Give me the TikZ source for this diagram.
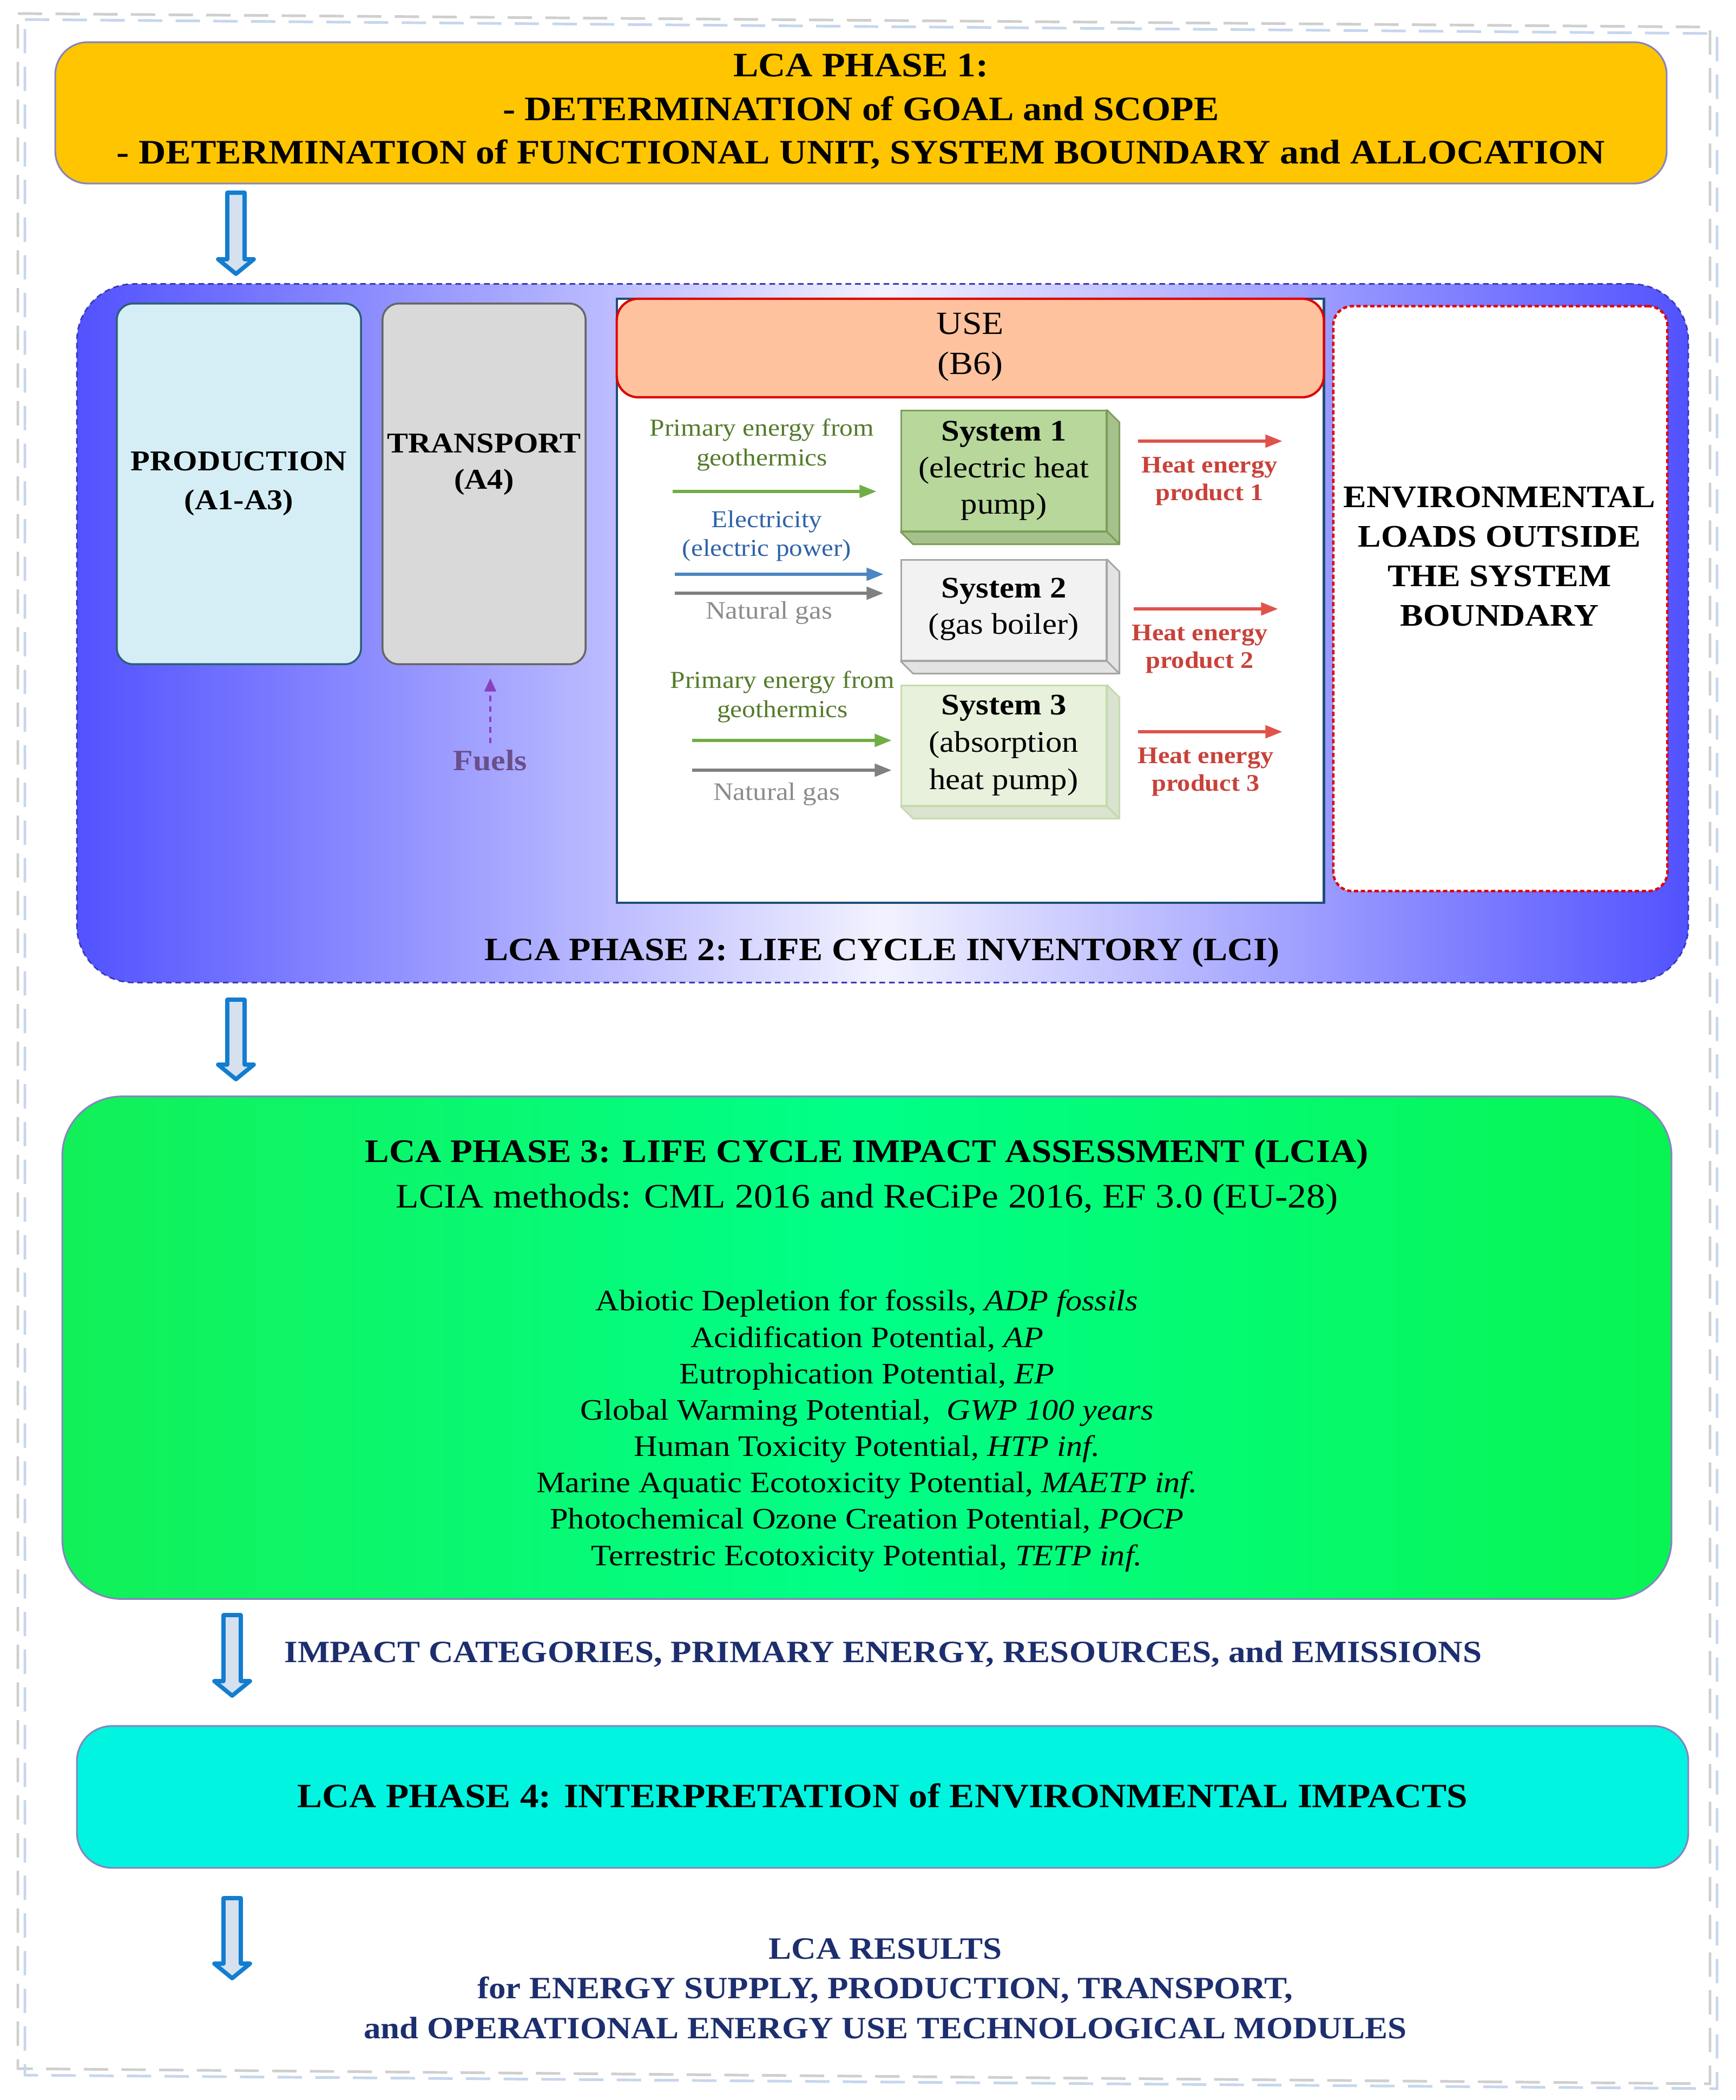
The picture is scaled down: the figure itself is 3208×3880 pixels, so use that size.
\documentclass[tikz,border=0pt]{standalone}
\usepackage{fontspec}
\setmainfont{Liberation Serif}[FakeStretch=1.1]
\usetikzlibrary{arrows.meta,calc}

\definecolor{frgray}{HTML}{CFCFCF}
\definecolor{frblue}{HTML}{C6D6EE}
\definecolor{pone}{HTML}{FFC500}
\definecolor{phline}{HTML}{8585C0}
\definecolor{ptwoside}{HTML}{5252FF}
\definecolor{ptwomid}{HTML}{F2F2FF}
\definecolor{ptwoline}{HTML}{3A3AB8}
\definecolor{prodfill}{HTML}{D5EEF5}
\definecolor{prodline}{HTML}{2B5F78}
\definecolor{transfill}{HTML}{D9D9D9}
\definecolor{transline}{HTML}{666666}
\definecolor{usehead}{HTML}{FFC29E}
\definecolor{usered}{HTML}{E00000}
\definecolor{usenavy}{HTML}{1F4E79}
\definecolor{sonefill}{HTML}{B8D79B}
\definecolor{soneline}{HTML}{7C9E5A}
\definecolor{stwofill}{HTML}{F2F2F2}
\definecolor{stwoline}{HTML}{A6A6A6}
\definecolor{sthreefill}{HTML}{E7F1DC}
\definecolor{sthreeline}{HTML}{C5DBAE}
\definecolor{geogreen}{HTML}{557B2B}
\definecolor{arrgreen}{HTML}{70AD47}
\definecolor{electxt}{HTML}{2F63A8}
\definecolor{arrblue}{HTML}{4A86C2}
\definecolor{gastxt}{HTML}{8C8C8C}
\definecolor{arrgray}{HTML}{808080}
\definecolor{heattxt}{HTML}{C8423A}
\definecolor{arrred}{HTML}{E0534B}
\definecolor{fuelarr}{HTML}{8A3FC0}
\definecolor{fueltxt}{HTML}{6A4F8A}
\definecolor{pthreeL}{HTML}{12F058}
\definecolor{pthreeM}{HTML}{00FF88}
\definecolor{pthreeR}{HTML}{08F452}
\definecolor{pfour}{HTML}{00F4E0}
\definecolor{navytxt}{HTML}{1C2E6E}
\definecolor{harrline}{HTML}{137DD0}
\definecolor{harrfill}{HTML}{D5E1EE}

\newcommand\myfs[2]{\fontsize{#1}{#2}\selectfont}
\newcommand\hollowarr[3]{%
  \filldraw[harrow] ({#1-16},#2) -- ({#1+16},#2) -- ({#1+16},{#3-27}) -- ({#1+33},{#3-27}) -- (#1,#3) -- ({#1-33},{#3-27}) -- ({#1-16},{#3-27}) -- cycle;}

\begin{document}
\begin{tikzpicture}[x=0.01cm,y=-0.01cm,
  txt/.style={inner sep=0pt, align=center},
  harrow/.style={draw=harrline, fill=harrfill, line width=2.2pt, line join=round},
  phasebox/.style={draw=phline, line width=0.9pt, inner sep=0pt},
  sysbox/.style={line width=0.85pt, inner sep=0pt, minimum width=3.78cm},
  inarr/.style={line width=1.8pt, -{Triangle[length=9pt,width=6.5pt]}},
  framegray/.style={draw=frgray, line width=1.4pt, dash pattern=on 12.8pt off 7pt},
  frameblue/.style={draw=frblue, line width=1.4pt, dash pattern=on 12.8pt off 7pt}]
\useasboundingbox (0,0) rectangle (3208,3880);

% outer double dashed frame
\draw[framegray] (33,25) -- (3160,50) -- (3160,3850) -- (33,3822) -- cycle;
\draw[frameblue] (46,36) -- (3173,62) -- (3173,3859) -- (46,3834) -- cycle;

% phase 1
\node[phasebox, fill=pone, rounded corners=0.6cm, minimum width=29.76cm, minimum height=2.61cm] (p1) at (1591,208.5) {};
\node[txt, font=\myfs{18}{23}\bfseries] (p1t) at (1591,206) {LCA PHASE 1:\\- DETERMINATION of GOAL and SCOPE\\- DETERMINATION of FUNCTIONAL UNIT, SYSTEM BOUNDARY and ALLOCATION};

\hollowarr{436}{356}{506}

% phase 2
\node[draw=ptwoline, line width=0.8pt, dash pattern=on 3pt off 2pt, rounded corners=1.05cm,
  left color=ptwoside, right color=ptwoside, middle color=ptwomid,
  minimum width=29.76cm, minimum height=12.9cm, inner sep=0pt] (p2) at (1631,1170) {};
\node[txt, font=\myfs{17.1}{20}\bfseries] (p2t) at (1630,1760) {LCA PHASE 2: LIFE CYCLE INVENTORY (LCI)};

\node[draw=prodline, fill=prodfill, line width=1pt, rounded corners=0.3cm, minimum width=4.51cm, minimum height=6.66cm, inner sep=0pt] (prod) at (441.5,894) {};
\node[txt, font=\myfs{15.1}{20.5}\bfseries] (prodt) at (441.5,894) {PRODUCTION\\(A1-A3)};

\node[draw=transline, fill=transfill, line width=1pt, rounded corners=0.3cm, minimum width=3.75cm, minimum height=6.66cm, inner sep=0pt] (trans) at (894.5,894) {};
\node[txt, font=\myfs{15.1}{19}\bfseries] (transt) at (894.5,858) {TRANSPORT\\(A4)};

\node[txt, font=\myfs{15.5}{17}\bfseries, text=fueltxt] (fuels) at (906,1405) {Fuels};
\coordinate (fueltip) at (906,1253);
\draw[fuelarr, line width=1.3pt, dash pattern=on 3pt off 2.5pt, -{Triangle[length=7pt,width=6pt]}] ($(fuels.north)+(0,-12)$) -- (fueltip);

% USE box
\node[draw=usenavy, fill=white, line width=1.2pt, minimum width=13.06cm, minimum height=11.16cm, inner sep=0pt] (usebox) at (1793,1110) {};
\node[draw=usered, fill=usehead, line width=1.2pt, rounded corners=0.4cm, minimum width=13.06cm, minimum height=1.82cm, inner sep=0pt] (usehd) at (1793,643) {};
\node[txt, font=\myfs{17}{20.8}] (uset) at (1793,641) {USE\\(B6)};

% systems
\node[sysbox, fill=sonefill, draw=soneline, minimum height=2.22cm] (s1) at (1855,870) {};
\filldraw[fill=sonefill!90!black, draw=soneline, line width=0.85pt, line join=round] (s1.north east) -- ++(23,23) -- ($(s1.south east)+(23,23)$) -- (s1.south east) -- cycle;
\filldraw[fill=sonefill!90!black, draw=soneline, line width=0.85pt, line join=round] (s1.south west) -- ++(23,23) -- ($(s1.south east)+(23,23)$) -- (s1.south east) -- cycle;
\node[txt, font=\myfs{15.7}{19.2}] (s1t) at (1855,870) {\textbf{System 1}\\(electric heat\\pump)};

\node[sysbox, fill=stwofill, draw=stwoline, minimum height=1.85cm] (s2) at (1855,1127.5) {};
\filldraw[fill=stwofill!94!black, draw=stwoline, line width=0.85pt, line join=round] (s2.north east) -- ++(23,23) -- ($(s2.south east)+(23,23)$) -- (s2.south east) -- cycle;
\filldraw[fill=stwofill!94!black, draw=stwoline, line width=0.85pt, line join=round] (s2.south west) -- ++(23,23) -- ($(s2.south east)+(23,23)$) -- (s2.south east) -- cycle;
\node[txt, font=\myfs{15.7}{19}] (s2t) at (1855,1126) {\textbf{System 2}\\(gas boiler)};

\node[sysbox, fill=sthreefill, draw=sthreeline, minimum height=2.21cm] (s3) at (1855,1377.5) {};
\filldraw[fill=sthreefill!94!black, draw=sthreeline, line width=0.85pt, line join=round] (s3.north east) -- ++(23,23) -- ($(s3.south east)+(23,23)$) -- (s3.south east) -- cycle;
\filldraw[fill=sthreefill!94!black, draw=sthreeline, line width=0.85pt, line join=round] (s3.south west) -- ++(23,23) -- ($(s3.south east)+(23,23)$) -- (s3.south east) -- cycle;
\node[txt, font=\myfs{15.7}{19.5}] (s3t) at (1855,1377) {\textbf{System 3}\\(absorption\\heat pump)};

% inputs
\node[txt, font=\myfs{12.8}{15.4}, text=geogreen] (geo1) at (1408,822) {Primary energy from\\geothermics};
\coordinate (g1a) at (1243,908); \coordinate (g1b) at (1620,908);
\draw[inarr, arrgreen] (g1a) -- (g1b);
\node[txt, font=\myfs{12.7}{15.2}, text=electxt] (elec) at (1417,990.5) {Electricity\\(electric power)};
\coordinate (e1a) at (1247,1061); \coordinate (e1b) at (1633,1061);
\draw[inarr, arrblue] (e1a) -- (e1b);
\coordinate (n1a) at (1247,1096); \coordinate (n1b) at (1633,1096);
\draw[inarr, arrgray] (n1a) -- (n1b);
\node[txt, font=\myfs{13.2}{15}, text=gastxt] (gas1) at (1421,1132) {Natural gas};

\node[txt, font=\myfs{12.8}{15.4}, text=geogreen] (geo2) at (1446,1287.5) {Primary energy from\\geothermics};
\coordinate (g2a) at (1279,1368); \coordinate (g2b) at (1648,1368);
\draw[inarr, arrgreen] (g2a) -- (g2b);
\coordinate (n2a) at (1279,1423); \coordinate (n2b) at (1648,1423);
\draw[inarr, arrgray] (n2a) -- (n2b);
\node[txt, font=\myfs{13.2}{15}, text=gastxt] (gas2) at (1435,1467) {Natural gas};

% outputs
\coordinate (h1a) at (2103,815); \coordinate (h1b) at (2370,815);
\draw[inarr, arrred] (h1a) -- (h1b);
\node[txt, font=\myfs{12.5}{14.6}\bfseries, text=heattxt] (heat1) at (2235,889.5) {Heat energy\\product 1};
\coordinate (h2a) at (2095,1125); \coordinate (h2b) at (2362,1125);
\draw[inarr, arrred] (h2a) -- (h2b);
\node[txt, font=\myfs{12.5}{14.6}\bfseries, text=heattxt] (heat2) at (2217,1199.5) {Heat energy\\product 2};
\coordinate (h3a) at (2103,1352); \coordinate (h3b) at (2370,1352);
\draw[inarr, arrred] (h3a) -- (h3b);
\node[txt, font=\myfs{12.5}{14.6}\bfseries, text=heattxt] (heat3) at (2228,1426) {Heat energy\\product 3};

% environmental loads
\node[draw=usered, fill=white, line width=1.3pt, dash pattern=on 2.2pt off 1.4pt, rounded corners=0.35cm, minimum width=6.17cm, minimum height=10.8cm, inner sep=0pt] (env) at (2772.5,1106) {};
\node[txt, font=\myfs{16.5}{20.8}\bfseries] (envt) at (2771,1028) {ENVIRONMENTAL\\LOADS OUTSIDE\\THE SYSTEM\\BOUNDARY};

\hollowarr{436}{1847}{1994}

% phase 3
\node[phasebox, rounded corners=1.1cm, left color=pthreeL, right color=pthreeR, middle color=pthreeM, minimum width=29.72cm, minimum height=9.28cm] (p3) at (1602,2490) {};
\node[txt, font=\myfs{17.3}{24}] (p3t) at (1602,2175) {\textbf{LCA PHASE 3: LIFE CYCLE IMPACT ASSESSMENT (LCIA)}\\{\myfs{18}{24}LCIA methods: CML 2016 and ReCiPe 2016, EF 3.0 (EU-28)}};
\node[txt, font=\myfs{15.6}{19.1}] (p3l) at (1602,2643.5) {Abiotic Depletion for fossils, \textit{ADP fossils}\\
Acidification Potential, \textit{AP}\\
Eutrophication Potential, \textit{EP}\\
Global Warming Potential,~ \textit{GWP 100 years}\\
Human Toxicity Potential, \textit{HTP inf.}\\
Marine Aquatic Ecotoxicity Potential, \textit{MAETP inf.}\\
Photochemical Ozone Creation Potential, \textit{POCP}\\
Terrestric Ecotoxicity Potential, \textit{TETP inf.}};

\hollowarr{429}{2984}{3133}
\node[txt, font=\myfs{16.3}{20}\bfseries, text=navytxt] (impact) at (1632,3056) {IMPACT CATEGORIES, PRIMARY ENERGY, RESOURCES, and EMISSIONS};

% phase 4
\node[phasebox, fill=pfour, rounded corners=0.65cm, minimum width=29.76cm, minimum height=2.62cm] (p4) at (1631,3320) {};
\node[txt, font=\myfs{17.9}{20}\bfseries] (p4t) at (1631,3318) {LCA PHASE 4: INTERPRETATION of ENVIRONMENTAL IMPACTS};

\hollowarr{429}{3507}{3655}
\node[txt, font=\myfs{16.3}{20.9}\bfseries, text=navytxt] (results) at (1636,3674) {LCA RESULTS\\for ENERGY SUPPLY, PRODUCTION, TRANSPORT,\\and OPERATIONAL ENERGY USE TECHNOLOGICAL MODULES};
\end{tikzpicture}
\end{document}
